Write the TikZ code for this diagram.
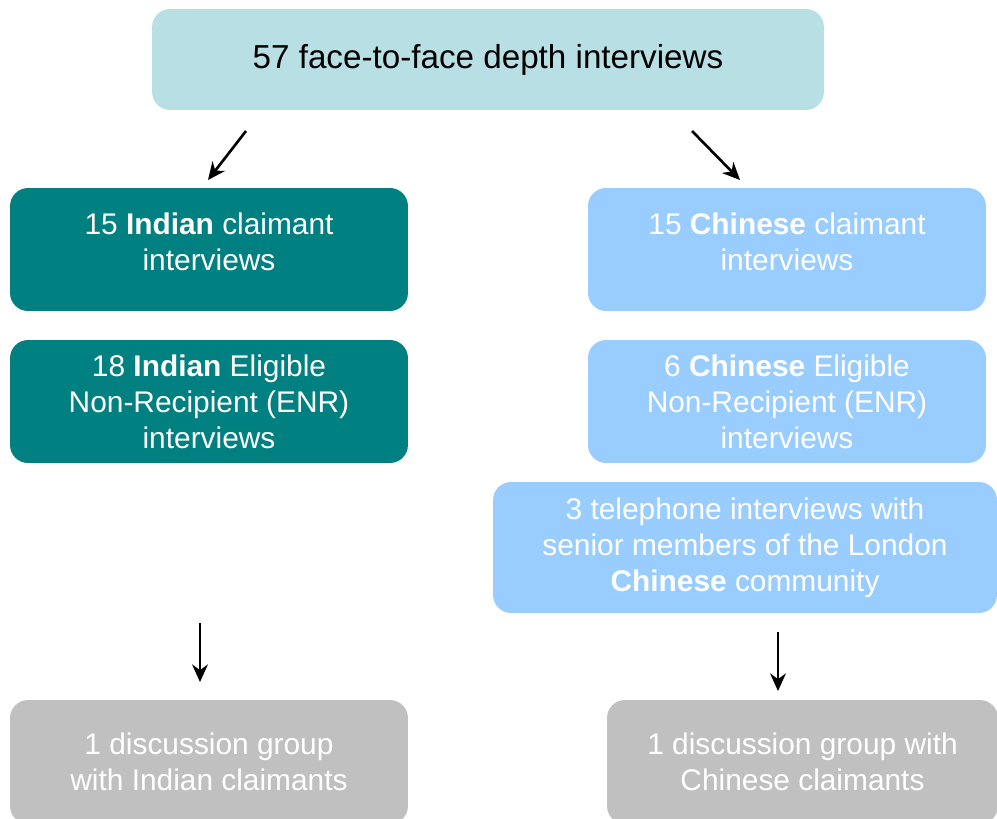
\documentclass[tikz,border=0pt]{standalone}
\usepackage{fontspec}
\setmainfont{Liberation Sans}
\usepackage{tikz}
\usetikzlibrary{arrows.meta,calc}
\definecolor{toplue}{RGB}{183,223,228}
\definecolor{indteal}{RGB}{0,128,128}
\definecolor{chnblue}{RGB}{153,204,255}
\definecolor{grpgray}{RGB}{192,192,192}
\tikzstyle{overall} = [rectangle, font=\fontsize{18.9}{22}\selectfont, rounded corners=0.36cm, minimum width=13.44cm, minimum height=2.02cm, text centered, fill=toplue, text=black]
\tikzstyle{indian} = [rectangle, font=\fontsize{17}{20.5}\selectfont, rounded corners=0.36cm, minimum width=7.96cm, minimum height=2.46cm, text centered, align=center, fill=indteal, text=white]
\tikzstyle{chinese} = [rectangle, font=\fontsize{17}{20.5}\selectfont, rounded corners=0.36cm, minimum width=7.96cm, minimum height=2.46cm, text centered, align=center, fill=chnblue, text=white]
\tikzstyle{group} = [rectangle, font=\fontsize{17}{20.5}\selectfont, rounded corners=0.36cm, minimum width=7.96cm, minimum height=2.48cm, text centered, align=center, fill=grpgray, text=white]
\tikzstyle{arrow} = [line width=1.5pt,-{Stealth[length=10pt,width=9pt]}]
\begin{document}
\begin{tikzpicture}[x=0.02cm,y=-0.02cm]
\useasboundingbox (0,0) rectangle (997,818);
\clip (0,0) rectangle (997,818);
\node (all) [overall] at (488,59.5) {57 face-to-face depth interviews};
\node (indClaim) [indian, text depth=9pt] at (209,249.5) {15 \textbf{Indian} claimant\\interviews};
\node (indEnr) [indian] at (209,401.5) {18 \textbf{Indian} Eligible\\Non-Recipient (ENR)\\interviews};
\node (chnClaim) [chinese, text depth=9pt] at (787,249.5) {15 \textbf{Chinese} claimant\\interviews};
\node (chnEnr) [chinese] at (787,401.5) {6 \textbf{Chinese} Eligible\\Non-Recipient (ENR)\\interviews};
\node (chnTel) [chinese, minimum width=10.08cm, minimum height=2.62cm] at (745,547.5) {3 telephone interviews with\\senior members of the London\\\textbf{Chinese} community};
\node (indGroup) [group] at (209,762) {1 discussion group\\with Indian claimants};
\node (chnGroup) [group, minimum width=7.82cm] at (802.5,762) {1 discussion group with\\Chinese claimants};

\coordinate (leftFrom) at (246,131);
\coordinate (leftTo) at (208,180);
\coordinate (rightFrom) at (692,131);
\coordinate (rightTo) at (740,180);
\coordinate (indFrom) at (200,623);
\coordinate (indTo) at (200,682);
\coordinate (chnFrom) at (778,632);
\coordinate (chnTo) at (778,691);

\draw [arrow] (leftFrom) -- (leftTo);
\draw [arrow] (rightFrom) -- (rightTo);
\draw [arrow] (indFrom) -- (indTo);
\draw [arrow] (chnFrom) -- (chnTo);
\end{tikzpicture}
\end{document}
